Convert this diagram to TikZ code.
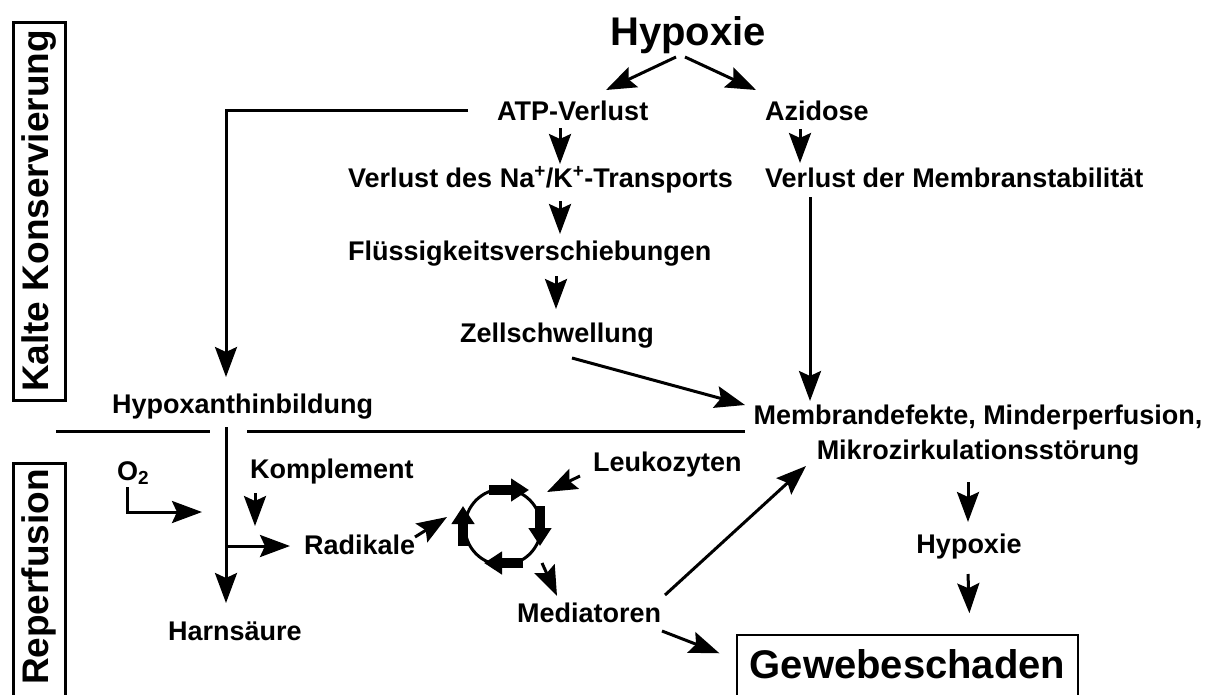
\documentclass[tikz,border=0pt]{standalone}
\usepackage{fontspec}
\setmainfont{Liberation Sans}
\usetikzlibrary{arrows.meta}
\begin{document}
\begin{tikzpicture}[x=1pt,y=-1pt,
  lbl/.style={font=\fontsize{27}{30}\selectfont\bfseries, inner sep=0pt, anchor=base west},
  big/.style={font=\fontsize{40}{44}\selectfont\bfseries, inner sep=0pt},
  side/.style={font=\fontsize{37}{40}\selectfont\bfseries, draw, line width=3pt, rotate=90, inner sep=0pt, minimum height=52pt},
  arr/.style={line width=3pt, -{Stealth[length=30pt,width=22pt,inset=5pt]}},
  ln/.style={line width=3pt},
  blk/.style={line width=10pt, -{Triangle[length=18pt,width=22pt]}},
]
\clip (0,0) rectangle (1209,694);
% side labels
\node[side, minimum width=378pt] (kalt) at (39,211) {Kalte Konservierung};
\node[side, minimum width=248pt] (rep) at (39,587) {\hspace*{20pt}Reperfusion};
% nodes
\node[big, anchor=base] (hyp) at (688,45) {Hypoxie};
\node[lbl] (atp) at (497,120) {ATP-Verlust};
\node[lbl] (azi) at (765,120) {Azidose};
\node[lbl] (nak) at (348,187) {Verlust des Na\textsuperscript{+}/K\textsuperscript{+}-Transports};
\node[lbl] (mem) at (765,187) {Verlust der Membranstabilität};
\node[lbl] (flu) at (348,260) {Flüssigkeitsverschiebungen};
\node[lbl] (zell) at (460,342) {Zellschwellung};
\node[lbl] (hx) at (112,413) {Hypoxanthinbildung};
\node[lbl, font=\fontsize{27}{35}\selectfont\bfseries, anchor=north, align=center] (md) at (978,405) {Membrandefekte, Minderperfusion,\\Mikrozirkulationsstörung};
\node[lbl] (leu) at (593,471) {Leukozyten};
\node[lbl] (kom) at (250,478) {Komplement};
\node[lbl] (o2) at (117,480) {O\textsubscript{2}};
\node[lbl] (rad) at (304,554) {Radikale};
\node[lbl] (harn) at (168,640) {Harnsäure};
\node[lbl] (med) at (517,622) {Mediatoren};
\node[lbl, anchor=base] (hyp2) at (969,553) {Hypoxie};
\node[big, anchor=base, draw, line width=1.5pt, inner xsep=12.5pt, inner ysep=14pt, text depth=8pt] (gew) at (907.5,678) {Gewebeschaden};
\node[draw, circle, line width=3pt, minimum size=76pt, inner sep=0pt] (cyc) at (503,527) {};
% cycle block arrows
\draw[blk] ([shift={(-14,-37)}]cyc.center) -- ([shift={(26,-37)}]cyc.center);
\draw[blk] ([shift={(37,-21)}]cyc.center) -- ([shift={(37,19)}]cyc.center);
\draw[blk] ([shift={(20,36)}]cyc.center) -- ([shift={(-19,36)}]cyc.center);
\draw[blk] ([shift={(-40,19)}]cyc.center) -- ([shift={(-40,-21)}]cyc.center);
% separator
\draw[ln] (56,431) -- (210,431);
\draw[ln] (247,431) -- (745,431);
% connectors
\draw[arr] ([shift={(-12,12)}]hyp.base) -- ([shift={(109,-30)}]atp.base west);
\draw[arr] ([shift={(-3,12)}]hyp.base) -- ([shift={(-9,-30)}]azi.base west);
\draw[arr] ([shift={(-29,-10)}]atp.base west) -| ([shift={(114,-36)}]hx.base west);
\draw[arr] ([shift={(63,8)}]atp.base west) -- ([shift={(212,-23)}]nak.base west);
\draw[arr] ([shift={(212,14)}]nak.base west) -- ([shift={(212,-26)}]flu.base west);
\draw[arr] ([shift={(208,16)}]flu.base west) -- ([shift={(96,-33)}]zell.base west);
\draw[arr] ([shift={(35,9)}]azi.base west) -- ([shift={(35,-24)}]mem.base west);
\draw[arr] ([shift={(45,10)}]mem.base west) -- ([shift={(-168,-4)}]md.north);
\draw[arr] ([shift={(112,16)}]zell.base west) -- ([shift={(-233,0)}]md.north);
\draw[arr] ([shift={(114,14)}]hx.base west) -- ([shift={(58,-37)}]harn.base west);
\draw[arr] ([shift={(58,-94)}]harn.base west) -- ([shift={(-14,-8)}]rad.base west);
\draw[arr] ([shift={(10,7)}]o2.base west) |- ([shift={(34,-128)}]harn.base west);
\draw[arr] ([shift={(5,15)}]kom.base west) -- ([shift={(-49,-28)}]rad.base west);
\draw[arr] ([shift={(111,-17)}]rad.base west) -- ([shift={(-56,-10)}]cyc.center);
\draw[arr] ([shift={(-13,5)}]leu.base west) -- ([shift={(44,-35)}]cyc.center);
\draw[arr] ([shift={(39,36)}]cyc.center) -- ([shift={(40,-26)}]med.base west);
\draw[arr] ([shift={(148,-27)}]med.base west) -- ([shift={(-172,61)}]md.north);
\draw[arr] ([shift={(145,9)}]med.base west) -- ([shift={(-17,19)}]gew.north west);
\draw[arr] ([shift={(-10,77)}]md.north) -- ([shift={(-1,-31)}]hyp2.base);
\draw[arr] ([shift={(-1,21)}]hyp2.base) -- ([shift={(233,-21)}]gew.north west);
\end{tikzpicture}
\end{document}
